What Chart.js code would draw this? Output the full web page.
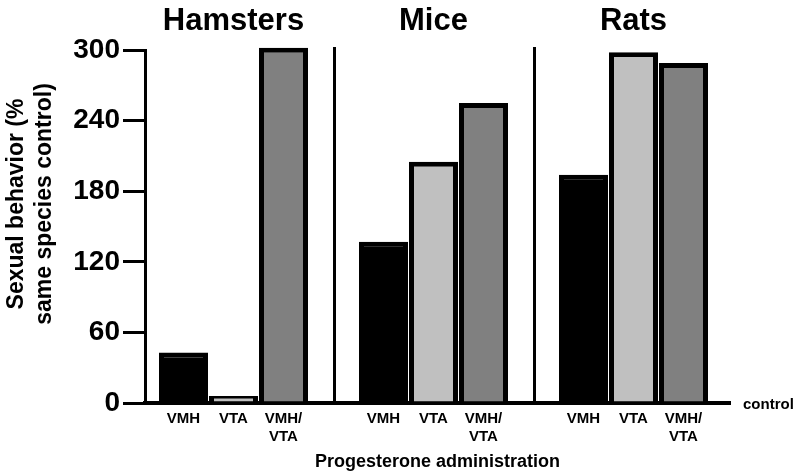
<!DOCTYPE html>
<html><head><meta charset="utf-8">
<script src="https://cdn.jsdelivr.net/npm/chart.js@4"></script>
<style>html,body{margin:0;padding:0;background:#fff}</style>
</head><body>
<canvas id="c" width="800" height="475"></canvas>
<script>
// ---- data ----
const species = ['Hamsters', 'Mice', 'Rats'];
const sites = ['VMH', 'VTA', 'VMH/VTA'];
const siteLabels = [['VMH'], ['VTA'], ['VMH/', 'VTA']];
const vmhValues = [43, 137, 194];
const vtaValues = [6, 205, 298];
const bothValues = [302, 255, 289];
const yTickValues = [0, 60, 120, 180, 240, 300];
const yTitle = ['Sexual behavior (%', 'same species control)'];
const xTitle = 'Progesterone administration';
const baselineLabel = 'control';
const fills = ['#000000', '#c0c0c0', '#808080'];

// ---- build ----
const FONT = "'Liberation Sans', Arial, sans-serif";
const slotsPerGroup = sites.length + 1;
const slotOf = (s, k) => s * slotsPerGroup + k;
const seriesValues = [vmhValues, vtaValues, bothValues];
const labelBySlot = {};
species.forEach((sp, s) => sites.forEach((site, k) => { labelBySlot[slotOf(s, k)] = siteLabels[k]; }));

const datasets = sites.map((site, k) => ({
  label: site,
  data: species.map((sp, s) => ({ x: slotOf(s, k), y: seriesValues[k][s] })),
  backgroundColor: fills[k],
  borderColor: '#000',
  borderWidth: 5,
  borderSkipped: 'start',
  grouped: false,
  barPercentage: 0.98,
  categoryPercentage: 1,
  clip: false
}));

const decor = {
  id: 'decor',
  afterDraw(chart) {
    const ctx = chart.ctx, xs = chart.scales.x, ca = chart.chartArea;
    ctx.save();
    ctx.fillStyle = '#000';
    ctx.strokeStyle = '#000';
    // group titles
    ctx.font = 'bold 31px ' + FONT;
    ctx.textAlign = 'center';
    ctx.textBaseline = 'middle';
    species.forEach((sp, s) => ctx.fillText(sp, xs.getPixelForValue(slotOf(s, 1)), 21));
    // dividers
    ctx.lineWidth = 3;
    for (let s = 0; s < species.length - 1; s++) {
      const x = Math.round(xs.getPixelForValue(slotOf(s, sites.length))) + 0.5;
      ctx.beginPath();
      ctx.moveTo(x, ca.top - 3);
      ctx.lineTo(x, ca.bottom);
      ctx.stroke();
    }
    // y title
    ctx.font = 'bold 23px ' + FONT;
    ctx.textAlign = 'center';
    ctx.textBaseline = 'middle';
    const cy = 204;
    [17, 45].forEach((x, i) => {
      ctx.save();
      ctx.translate(x, cy);
      ctx.rotate(-Math.PI / 2);
      ctx.fillText(yTitle[i], 0, 0);
      ctx.restore();
    });
    // baseline label
    ctx.font = 'bold 15px ' + FONT;
    ctx.textAlign = 'left';
    ctx.fillText(baselineLabel, ca.right + 13, ca.bottom + 2);
    ctx.restore();
  }
};

new Chart(document.getElementById('c'), {
  type: 'bar',
  data: { datasets },
  options: {
    responsive: false,
    animation: false,
    events: [],
    layout: { padding: { top: 50, right: 70, left: 0, bottom: 0 } },
    plugins: { legend: { display: false }, tooltip: { enabled: false } },
    scales: {
      x: {
        type: 'linear',
        offset: false,
        min: -0.77,
        max: 10.93,
        afterBuildTicks: (sc) => { sc.ticks = Object.keys(labelBySlot).map(v => ({ value: +v })); },
        afterFit: (sc) => { sc.height = 72; },
        grid: { display: true, drawOnChartArea: false, drawTicks: false },
        border: { display: true, color: '#000', width: 4 },
        ticks: {
          autoSkip: false, maxRotation: 0, padding: 7, color: '#000',
          font: { family: FONT, size: 15, weight: 'bold' },
          callback: (v) => labelBySlot[v] || ''
        },
        title: {
          display: true, text: xTitle, color: '#000',
          font: { family: FONT, size: 18, weight: 'bold' },
          padding: { top: 0, bottom: 2 }
        }
      },
      y: {
        min: 0,
        max: 300,
        afterBuildTicks: (sc) => { sc.ticks = yTickValues.map(v => ({ value: v })); },
        afterFit: (sc) => { sc.width = 145; },
        grid: { drawOnChartArea: false, drawTicks: true, tickLength: 22, tickWidth: 3, tickColor: '#000', lineWidth: 3, color: '#000' },
        border: { display: true, color: '#000', width: 3 },
        ticks: {
          padding: 3, color: '#000',
          font: { family: FONT, size: 28, weight: 'bold' }
        }
      }
    }
  },
  plugins: [decor]
});
</script>
</body></html>
